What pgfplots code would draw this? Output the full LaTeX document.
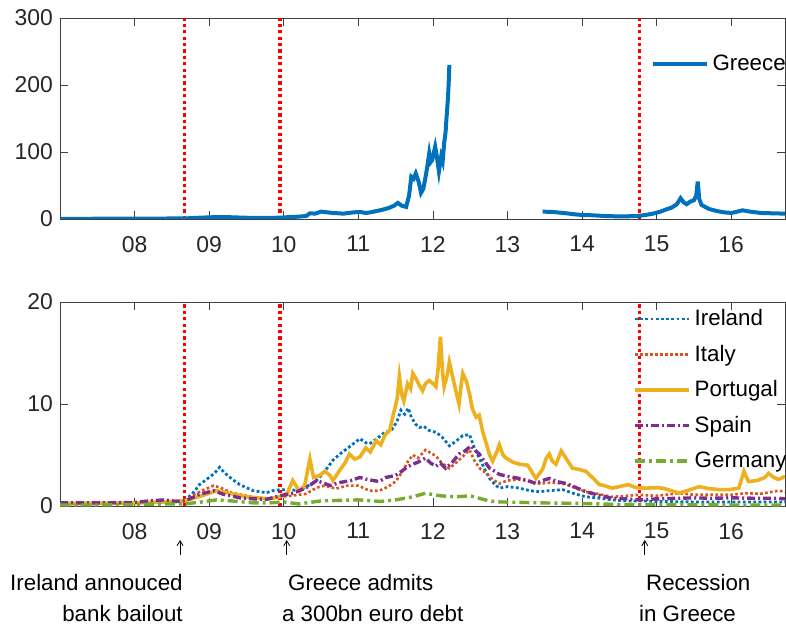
\documentclass[border=0pt]{standalone}
\usepackage{fontspec}
\setmainfont{Liberation Sans}
\usepackage{pgfplots}
\pgfplotsset{compat=1.18}
\usetikzlibrary{arrows.meta}

\definecolor{mblue}{HTML}{0072BD}
\definecolor{morange}{HTML}{D95319}
\definecolor{myellow}{HTML}{EDB120}
\definecolor{mpurple}{HTML}{7E2F8E}
\definecolor{mgreen}{HTML}{77AC30}
\definecolor{axgray}{HTML}{404040}

\pgfplotsset{
  panel/.style={
    scale only axis, width=362.5bp,
    xmin=2007, xmax=2016.72,
    xtick={2008,...,2016},
    xticklabels={08,09,10,11,12,13,14,15,16},
    minor x tick num=3,
    tick align=inside, xtick pos=both, ytick pos=both,
    major tick length=4bp, minor tick length=2.5bp,
    axis line style={axgray}, tick style={axgray, line width=0.4bp},
    every tick label/.append style={text=black!85},
    tick label style={font=\fontsize{11.5}{12}\selectfont},
    /pgf/number format/assume math mode=true,
    xticklabel style={yshift=-5bp},
    legend style={draw=none, fill=none, font=\fontsize{11.2}{12.5}\selectfont,
      legend cell align=left, inner sep=0pt},
    legend image code/.code={\draw[#1] (0bp,0bp) -- (27bp,0bp);},
    unbounded coords=jump,
  },
  redline/.style={red, line width=1.6bp, dash pattern=on 1.6bp off 1.6bp, forget plot},
}

\begin{document}
\begin{tikzpicture}
% top panel: Greece
\begin{axis}[panel, height=100.5bp, ymin=0, ymax=300, ytick={0,100,200,300},
  legend style={at={(0.814,0.84)}, anchor=north west}]
\addplot[redline] coordinates {(2008.67,0)(2008.67,300)};
\addplot[redline] coordinates {(2009.95,0)(2009.95,300)};
\addplot[redline] coordinates {(2014.77,0)(2014.77,300)};
\addplot[mblue, line width=2bp] coordinates {
(2007.00,0.3)(2007.25,0.3)(2007.5,0.4)(2007.75,0.4)(2008.0,0.5)(2008.25,0.6)(2008.5,0.8)(2008.7,1.0)
(2008.85,1.8)(2009.0,2.5)(2009.15,3.0)(2009.3,2.6)(2009.45,2.0)(2009.6,1.6)(2009.8,1.6)(2009.95,2.0)
(2010.1,3.0)(2010.2,3.5)(2010.3,4.5)(2010.35,8.5)(2010.42,8)(2010.5,11)(2010.58,10)(2010.66,9)
(2010.8,8)(2010.9,9.5)(2011.02,10.6)(2011.1,9)(2011.15,9.7)(2011.25,12)(2011.33,14)(2011.42,17)
(2011.48,20)(2011.53,24)(2011.58,20)(2011.64,18)(2011.68,35)(2011.71,63)(2011.74,60)(2011.77,68)
(2011.81,55)(2011.84,39)(2011.87,45)(2011.89,56)(2011.92,75)(2011.95,98)(2011.97,85)(2011.99,88)
(2012.03,108)(2012.05,95)(2012.08,71)(2012.11,93)(2012.13,86)(2012.15,113)(2012.17,130)(2012.18,148)
(2012.2,178)(2012.21,200)(2012.22,230)
(2012.8,nan)
(2013.47,11)(2013.6,10.5)(2013.75,9)(2013.9,7)(2014.0,6)(2014.15,5.5)(2014.3,4.5)(2014.45,4)
(2014.6,4)(2014.75,4.5)(2014.85,6)(2014.95,8)(2015.05,11)(2015.12,14)(2015.2,17)(2015.27,22)
(2015.32,31)(2015.36,25)(2015.4,22)(2015.45,26)(2015.5,28)(2015.53,35)(2015.55,56)(2015.57,30)
(2015.6,21)(2015.65,18)(2015.7,15)(2015.8,12)(2015.9,10)(2016.0,9)(2016.08,11)(2016.15,13)
(2016.25,11)(2016.4,9)(2016.55,8.5)(2016.72,8)
};
\legend{Greece}
\end{axis}

% bottom panel: other countries
\begin{axis}[panel, at={(0,-143.5bp)}, height=102bp, ymin=0, ymax=20, ytick={0,10,20},
  clip=false,
  legend style={at={(0.79,0.985)}, anchor=north west, row sep=4.2bp}]
\addplot[redline] coordinates {(2008.67,0)(2008.67,20)};
\addplot[redline] coordinates {(2009.95,0)(2009.95,20)};
\addplot[redline] coordinates {(2014.77,0)(2014.77,20)};
\addplot[mblue, line width=1.4bp, dash pattern=on 1.4bp off 1.2bp] coordinates {
(2007.0,0.2)(2007.5,0.2)(2008.0,0.3)(2008.4,0.4)(2008.67,0.5)(2008.8,1.4)(2008.87,2.1)(2009.0,2.8)
(2009.07,3.2)(2009.14,3.8)(2009.2,3.3)(2009.28,2.8)(2009.35,2.4)(2009.41,2.1)(2009.5,1.8)(2009.59,1.5)
(2009.68,1.4)(2009.77,1.3)(2009.85,1.5)(2009.95,1.6)(2010.08,1.6)(2010.21,1.5)(2010.33,2.0)(2010.44,2.5)
(2010.55,3.4)(2010.66,4.5)(2010.77,5.2)(2010.88,5.8)(2011.02,6.6)(2011.1,6.2)(2011.15,6.1)(2011.25,6.6)
(2011.33,7.1)(2011.45,7.5)(2011.52,8.3)(2011.57,9.4)(2011.62,9.0)(2011.67,9.6)(2011.71,8.7)(2011.77,8.0)
(2011.82,7.7)(2011.88,7.8)(2011.95,7.4)(2012.05,7.2)(2012.13,6.7)(2012.22,5.9)(2012.3,6.3)(2012.4,6.9)
(2012.49,7.0)(2012.55,5.8)(2012.62,4.7)(2012.7,3.5)(2012.76,2.7)(2012.83,2.1)(2012.89,1.75)(2013.0,1.9)
(2013.16,1.75)(2013.3,1.5)(2013.43,1.4)(2013.55,1.5)(2013.74,1.6)(2013.9,1.2)(2014.05,0.9)(2014.2,0.8)
(2014.4,0.6)(2014.6,0.5)(2014.8,0.5)(2015.0,0.45)(2015.5,0.4)(2016.0,0.4)(2016.72,0.4)
};
\addplot[morange, line width=1.3bp, dash pattern=on 1.3bp off 1.2bp] coordinates {
(2007.0,0.3)(2007.5,0.3)(2008.0,0.35)(2008.4,0.45)(2008.67,0.5)(2008.8,1.1)(2008.9,1.5)(2009.06,2.0)
(2009.15,1.8)(2009.3,1.3)(2009.5,1.0)(2009.65,0.8)(2009.8,0.7)(2009.95,0.9)(2010.1,1.0)(2010.3,1.2)
(2010.44,1.8)(2010.55,2.0)(2010.7,1.7)(2010.85,2.0)(2011.0,2.0)(2011.15,1.5)(2011.28,1.5)(2011.4,1.9)
(2011.5,2.4)(2011.6,3.5)(2011.66,4.3)(2011.73,5.0)(2011.8,4.7)(2011.9,5.5)(2011.97,5.2)(2012.04,4.9)
(2012.12,4.2)(2012.22,3.7)(2012.32,4.3)(2012.42,5.0)(2012.49,5.5)(2012.56,4.4)(2012.64,3.6)(2012.72,3.2)
(2012.8,2.6)(2012.89,2.2)(2013.0,2.5)(2013.16,2.6)(2013.3,2.4)(2013.43,2.2)(2013.6,2.3)(2013.74,2.2)
(2013.9,1.8)(2014.05,1.4)(2014.2,1.2)(2014.4,0.9)(2014.6,1.0)(2014.76,1.1)(2015.0,1.0)(2015.3,1.25)
(2015.5,1.1)(2015.74,1.1)(2016.0,1.1)(2016.19,1.25)(2016.4,1.2)(2016.63,1.5)(2016.72,1.4)
};
\addplot[myellow, line width=1.8bp] coordinates {
(2007.0,0.25)(2007.5,0.25)(2008.0,0.3)(2008.4,0.4)(2008.67,0.5)(2008.8,0.8)(2008.9,1.0)(2009.1,1.5)
(2009.3,1.2)(2009.5,0.9)(2009.8,0.7)(2009.95,0.9)(2010.05,1.3)(2010.12,2.5)(2010.18,1.8)(2010.21,1.5)
(2010.28,2.0)(2010.35,4.6)(2010.4,2.8)(2010.48,3.0)(2010.55,3.4)(2010.62,3.0)(2010.66,2.5)(2010.75,3.5)
(2010.82,4.2)(2010.88,5.1)(2010.95,4.6)(2011.02,4.8)(2011.1,5.7)(2011.16,5.3)(2011.24,6.4)(2011.3,6.0)
(2011.36,7.0)(2011.42,7.4)(2011.46,8.7)(2011.52,10.5)(2011.55,12.7)(2011.58,11.0)(2011.61,10.3)(2011.66,12.0)
(2011.7,11.5)(2011.73,13.0)(2011.78,12.4)(2011.82,11.8)(2011.86,11.3)(2011.9,12.0)(2011.95,12.3)(2012.0,12.0)
(2012.04,11.7)(2012.07,13.5)(2012.1,16.6)(2012.13,13.0)(2012.15,11.7)(2012.19,12.8)(2012.22,14.1)(2012.26,12.8)
(2012.3,11.5)(2012.35,10.0)(2012.38,12.0)(2012.4,13.0)(2012.45,12.2)(2012.49,11.0)(2012.53,9.5)(2012.58,8.7)
(2012.62,8.9)(2012.67,7.2)(2012.72,6.0)(2012.76,5.0)(2012.8,4.4)(2012.85,5.2)(2012.89,6.0)(2012.94,5.0)
(2012.98,4.7)(2013.07,4.3)(2013.16,4.1)(2013.27,4.0)(2013.38,2.7)(2013.47,3.6)(2013.52,4.7)(2013.56,5.1)
(2013.6,4.4)(2013.65,4.1)(2013.72,5.4)(2013.8,4.5)(2013.87,3.7)(2013.95,3.6)(2014.05,3.4)(2014.15,2.7)
(2014.23,2.1)(2014.3,2.0)(2014.4,1.75)(2014.5,1.9)(2014.62,2.1)(2014.72,1.8)(2014.85,1.75)(2015.0,1.8)
(2015.08,1.75)(2015.2,1.5)(2015.3,1.25)(2015.45,1.6)(2015.57,1.9)(2015.7,1.7)(2015.85,1.6)(2015.97,1.6)
(2016.1,1.75)(2016.17,3.4)(2016.23,2.4)(2016.35,2.5)(2016.45,2.8)(2016.5,3.2)(2016.57,2.8)(2016.63,2.6)
(2016.72,2.9)
};
\addplot[mpurple, line width=1.7bp, dash pattern=on 4bp off 1.5bp on 1bp off 1.5bp] coordinates {
(2007.0,0.3)(2007.5,0.3)(2008.0,0.35)(2008.2,0.5)(2008.4,0.6)(2008.55,0.45)(2008.67,0.5)(2008.8,0.9)
(2008.87,1.15)(2009.06,1.5)(2009.19,1.15)(2009.3,1.0)(2009.41,0.8)(2009.6,0.7)(2009.77,0.66)(2009.95,1.0)
(2010.1,1.2)(2010.21,1.5)(2010.33,1.9)(2010.44,2.5)(2010.55,2.2)(2010.62,2.0)(2010.75,2.3)(2010.9,2.5)
(2011.02,2.8)(2011.12,2.6)(2011.2,2.5)(2011.28,2.4)(2011.37,2.8)(2011.5,3.0)(2011.58,3.4)(2011.65,3.8)
(2011.73,4.1)(2011.8,4.3)(2011.9,4.7)(2011.97,4.2)(2012.04,3.9)(2012.1,4.2)(2012.17,3.7)(2012.25,4.2)
(2012.35,5.1)(2012.43,5.4)(2012.51,5.9)(2012.56,5.5)(2012.62,5.1)(2012.7,4.3)(2012.76,3.7)(2012.83,3.4)
(2012.89,3.1)(2013.0,2.9)(2013.16,2.7)(2013.27,2.5)(2013.38,2.2)(2013.47,2.5)(2013.56,2.7)(2013.66,2.4)
(2013.79,2.2)(2013.92,1.8)(2014.05,1.4)(2014.2,1.1)(2014.4,0.76)(2014.6,0.7)(2014.76,0.6)(2015.0,0.7)
(2015.3,0.76)(2015.5,0.8)(2015.74,0.76)(2016.0,0.8)(2016.3,0.76)(2016.63,0.76)(2016.72,0.7)
};
\addplot[mgreen, line width=1.7bp, dash pattern=on 5bp off 2bp on 1.5bp off 2bp] coordinates {
(2007.0,0.1)(2007.5,0.1)(2008.0,0.15)(2008.4,0.2)(2008.67,0.2)(2008.9,0.4)(2009.1,0.6)(2009.3,0.5)
(2009.6,0.3)(2009.8,0.3)(2010.0,0.4)(2010.2,0.2)(2010.5,0.5)(2011.0,0.6)(2011.3,0.45)(2011.5,0.6)
(2011.73,0.9)(2011.9,1.25)(2012.1,1.0)(2012.3,0.9)(2012.5,1.0)(2012.62,0.76)(2012.75,0.5)(2012.9,0.4)
(2013.5,0.3)(2014.0,0.25)(2014.5,0.15)(2015.0,0.15)(2015.5,0.12)(2016.0,0.1)(2016.72,0.1)
};
\legend{Ireland, Italy, Portugal, Spain, Germany}
% event annotations
\begin{scope}[font=\fontsize{11.2}{15.5}\selectfont]
\draw[-{Straight Barb[length=2.5bp,width=3bp]}, line width=0.4bp]
  ([yshift=-24.5bp]axis cs:2008.61,0) -- ([yshift=-17bp]axis cs:2008.61,0);
\draw[-{Straight Barb[length=2.5bp,width=3bp]}, line width=0.4bp]
  ([yshift=-24.5bp]axis cs:2010.04,0) -- ([yshift=-17bp]axis cs:2010.04,0);
\draw[-{Straight Barb[length=2.5bp,width=3bp]}, line width=0.4bp]
  ([yshift=-24.5bp]axis cs:2014.84,0) -- ([yshift=-17bp]axis cs:2014.84,0);
\node[anchor=north east, align=right, inner sep=0pt] at ([xshift=1.5bp,yshift=-34bp]axis cs:2008.61,0)
  {Ireland annouced\\bank bailout};
\node[anchor=north west, align=left, inner sep=0pt] at ([xshift=-2.5bp,yshift=-34bp]axis cs:2010.04,0)
  {\hspace{3bp}Greece admits\\a 300bn euro debt};
\node[anchor=north west, align=left, inner sep=0pt] at ([xshift=-3bp,yshift=-34bp]axis cs:2014.84,0)
  {\hspace{3.5bp}Recession\\in Greece};
\end{scope}
\end{axis}
\pgfresetboundingbox
\path[use as bounding box] (-30bp,-205bp) rectangle (363bp,109.5bp);
\end{tikzpicture}
\end{document}
